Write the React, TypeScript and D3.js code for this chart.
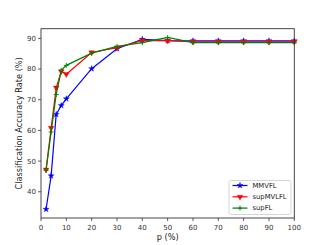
import React from 'react';
import * as d3 from 'd3';

// p (%) values on the x axis
const pValues = [2, 4, 6, 8, 10, 20, 30, 40, 50, 60, 70, 80, 90, 100];

// accuracy (%) for each method
const mmvfl = [34.3, 45.2, 65.2, 68.1, 70.3, 80.1, 86.6, 89.7, 89.3, 89.2, 89.2, 89.2, 89.2, 89.2];
const supMvlfl = [47.2, 60.8, 73.9, 79.2, 78.3, 85.4, 87.0, 89.3, 89.2, 88.9, 88.9, 88.9, 88.9, 88.9];
const supFl = [47.0, 59.5, 71.7, 79.6, 81.2, 85.2, 87.4, 88.6, 90.3, 88.6, 88.6, 88.6, 88.6, 88.6];

const xTicks = [0, 10, 20, 30, 40, 50, 60, 70, 80, 90, 100];
const yTicks = [40, 50, 60, 70, 80, 90];

const seriesNames = ['MMVFL', 'supMVLFL', 'supFL'];
const seriesColors = ['#0000ff', '#ff0000', '#008000'];
const seriesMarkers = ['star', 'tri', 'plus'];

const W = 327;
const H = 245;
const m = { left: 41, top: 28.7, right: 294.3, bottom: 218 };
const font = 'DejaVu Sans, sans-serif';

function Marker({ kind, x, y, color }: { kind: string; x: number; y: number; color: string }) {
  if (kind === 'star') {
    const d = d3.symbol(d3.symbolStar, 11)();
    return <path d={d as string} transform={`translate(${x},${y})`} fill={color} stroke={color} strokeWidth={0.4} />;
  }
  if (kind === 'tri') {
    const d = d3.symbol(d3.symbolTriangle, 14)();
    return <path d={d as string} transform={`translate(${x},${y}) rotate(180)`} fill={color} stroke={color} strokeWidth={0.4} />;
  }
  return (
    <g stroke={color} strokeWidth={0.9}>
      <line x1={x - 2.5} x2={x + 2.5} y1={y} y2={y} />
      <line x1={x} x2={x} y1={y - 2.5} y2={y + 2.5} />
    </g>
  );
}

export default function App() {
  const x = d3.scaleLinear().domain([0, 100]).range([m.left, m.right]);
  const y = d3.scaleLinear().domain([31.45, 93.15]).range([m.bottom, m.top]);
  const line = d3.line<number>().x((_, i) => x(pValues[i])).y((d) => y(d));
  const all = [mmvfl, supMvlfl, supFl];

  return (
    <svg width={W} height={H} style={{ position: 'absolute', left: 0, top: 0, background: '#fff' }}>
      {all.map((s, si) => (
        <g key={si}>
          <path d={line(s) as string} fill="none" stroke={seriesColors[si]} strokeWidth={1.2} />
          {s.map((v, i) => (
            <Marker key={i} kind={seriesMarkers[si]} x={x(pValues[i])} y={y(v)} color={seriesColors[si]} />
          ))}
        </g>
      ))}

      {/* frame */}
      <rect x={m.left} y={m.top} width={m.right - m.left} height={m.bottom - m.top} fill="none" stroke="#333" strokeWidth={0.9} />

      {/* x ticks */}
      {xTicks.map((t) => (
        <g key={t} transform={`translate(${x(t)},${m.bottom})`}>
          <line y1={0} y2={3} stroke="#333" strokeWidth={0.8} />
          <text y={11.5} textAnchor="middle" fontSize={7} fontFamily={font} fill="#333">{t}</text>
        </g>
      ))}

      {/* y ticks */}
      {yTicks.map((t) => (
        <g key={t} transform={`translate(${m.left},${y(t)})`}>
          <line x1={0} x2={-3} stroke="#333" strokeWidth={0.8} />
          <text x={-5} dy="0.35em" textAnchor="end" fontSize={7} fontFamily={font} fill="#333">{t}</text>
        </g>
      ))}

      <text x={(m.left + m.right) / 2} y={240} textAnchor="middle" fontSize={8.2} fontFamily={font} fill="#222">p (%)</text>
      <text
        transform={`translate(${22},${(m.top + m.bottom) / 2}) rotate(-90)`}
        textAnchor="middle"
        fontSize={8.2}
        fontFamily={font}
        fill="#222"
      >
        Classification Accuracy Rate (%)
      </text>

      {/* legend */}
      <g>
        <rect x={229} y={180.5} width={62} height={34} rx={2} fill="#fff" fillOpacity={0.8} stroke="#ccc" strokeWidth={0.8} />
        {seriesNames.map((name, i) => {
          const ly = 185.5 + i * 11.3;
          return (
            <g key={name}>
              <line x1={232.5} x2={247.5} y1={ly} y2={ly} stroke={seriesColors[i]} strokeWidth={1.2} />
              <Marker kind={seriesMarkers[i]} x={240} y={ly} color={seriesColors[i]} />
              <text x={252.5} y={ly} dy="0.35em" fontSize={6.8} fontFamily={font} fill="#222">{name}</text>
            </g>
          );
        })}
      </g>
    </svg>
  );
}
